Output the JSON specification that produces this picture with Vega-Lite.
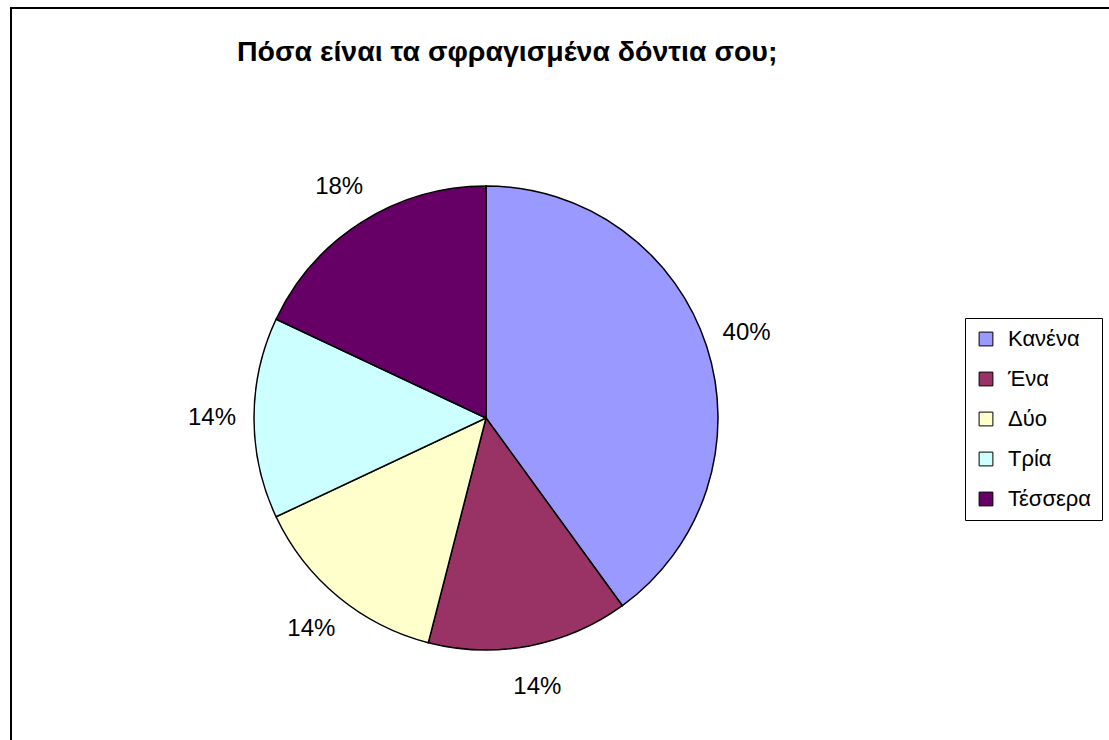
{
  "$schema": "https://vega.github.io/schema/vega-lite/v6.json",
  "width": 1100,
  "height": 734,
  "autosize": {"type": "none"},
  "padding": {"left": 11, "top": 8, "right": 0, "bottom": 0},
  "background": "white",
  "view": {"stroke": "black", "strokeWidth": 2, "fill": "white"},
  "title": {
    "text": "Πόσα είναι τα σφραγισμένα δόντια σου;",
    "font": "Liberation Sans",
    "fontSize": 28.5,
    "fontWeight": "bold",
    "color": "black",
    "anchor": "start",
    "frame": "group",
    "baseline": "alphabetic",
    "offset": 0,
    "dx": 226,
    "dy": 81
  },
  "data": {
    "values": [
      {"category": "Κανένα", "value": 40, "label": "40%", "rank": 1},
      {"category": "Ένα", "value": 14, "label": "14%", "rank": 2},
      {"category": "Δύο", "value": 14, "label": "14%", "rank": 3},
      {"category": "Τρία", "value": 14, "label": "14%", "rank": 4},
      {"category": "Τέσσερα", "value": 18, "label": "18%", "rank": 5}
    ]
  },
  "encoding": {
    "theta": {"field": "value", "type": "quantitative", "stack": true},
    "order": {"field": "rank", "type": "quantitative"}
  },
  "layer": [
    {
      "mark": {"type": "arc", "outerRadius": 232, "stroke": "black", "strokeWidth": 1.5, "xOffset": -75, "yOffset": 43},
      "encoding": {
        "color": {
          "field": "category",
          "type": "nominal",
          "scale": {
            "domain": ["Κανένα", "Ένα", "Δύο", "Τρία", "Τέσσερα"],
            "range": ["#9999FF", "#993366", "#FFFFCC", "#CCFFFF", "#660066"]
          },
          "legend": {
            "title": null,
            "orient": "none",
            "legendX": 954,
            "legendY": 310,
            "symbolType": "square",
            "symbolSize": 190,
            "symbolStrokeColor": "black",
            "symbolStrokeWidth": 1,
            "symbolOpacity": 1,
            "labelFont": "Liberation Sans",
            "labelFontSize": 22,
            "labelColor": "black",
            "labelOffset": 11,
            "rowPadding": 18,
            "strokeColor": "black",
            "padding": 10,
            "fillColor": "white"
          }
        }
      }
    },
    {
      "mark": {"type": "text", "radius": 274, "font": "Liberation Sans", "fontSize": 24, "color": "black", "xOffset": -75, "yOffset": 43},
      "encoding": {
        "text": {"field": "label", "type": "nominal"}
      }
    }
  ],
  "config": {
    "view": {"stroke": "black", "strokeWidth": 2}
  }
}
